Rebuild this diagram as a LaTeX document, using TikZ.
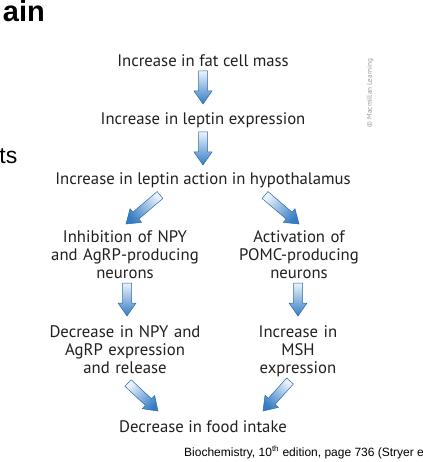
\documentclass[tikz,border=0pt]{standalone}
\usepackage{fontspec}
\setmainfont{PT Sans}
\newfontfamily\slidefont{Liberation Sans}
\usepackage{tikz}
\usetikzlibrary{calc}

\definecolor{arrowblue}{RGB}{52,124,196}
\definecolor{arrowlight}{RGB}{236,243,251}
\definecolor{textgray}{RGB}{35,31,32}

% block arrow from #2 to #3, #1 = shading angle
\newcommand{\fatarrow}[3][0]{%
  \coordinate (fa-t) at (#2);
  \coordinate (fa-h) at (#3);
  \coordinate (fa-c) at ($(fa-h)!13pt!(fa-t)$);
  \path[arrowbody, shading angle=#1]
    ($(fa-t)!4.5pt!90:(fa-h)$) -- ($(fa-c)!4.5pt!-90:(fa-t)$)
    -- ($(fa-c)!9pt!-90:(fa-t)$) -- (fa-h)
    -- ($(fa-c)!9pt!90:(fa-t)$) -- ($(fa-c)!4.5pt!90:(fa-t)$)
    -- ($(fa-t)!4.5pt!-90:(fa-h)$) -- cycle;
}

\begin{document}
\begin{tikzpicture}[
    x=1pt, y=-1pt,
    stage/.style={font=\fontsize{16.7}{18}\selectfont, text=textgray,
      inner sep=0pt, anchor=base, align=center},
    arrowbody/.style={draw=arrowblue!85!black, line width=0.5pt,
      top color=arrowlight, middle color=arrowblue!45!arrowlight,
      bottom color=arrowblue}
    ]
    \useasboundingbox[fill=white] (0,0) rectangle (422,462);

    % slide leftovers
    \node[anchor=base east, inner sep=0pt, font=\slidefont\bfseries\fontsize{29}{30}\selectfont] (title) at (45,22) {ain};
    \node[anchor=base east, inner sep=0pt, font=\slidefont\fontsize{23}{24}\selectfont] (bullet) at (17.5,164) {ts};
    \node[anchor=base west, inner sep=0pt, font=\slidefont\fontsize{12}{13}\selectfont] (source) at (184,456)
        {Biochemistry, 10\textsuperscript{th} edition, page 736 (Stryer e};
    \node[rotate=90, inner sep=0pt, font=\fontsize{7.2}{8}\selectfont, text=gray!80] (credit) at (370,93)
        {\textcopyright{} Macmillan Learning};

    % stages
    \node[stage] (n1) at (203,67) {Increase in fat cell mass};
    \node[stage] (n2) at (203,125) {Increase in leptin expression};
    \node[stage] (n3) at (203,185) {Increase in leptin action in hypothalamus};
    \node[stage, text width=170pt] (n4) at (125,242) {Inhibition of NPY\\ and AgRP-producing\\ neurons};
    \node[stage, text width=150pt] (n5) at (299,242) {Activation of\\ POMC-producing\\ neurons};
    \node[stage, text width=170pt] (n6) at (125,337) {Decrease in NPY and\\ AgRP expression\\ and release};
    \node[stage, text width=150pt] (n7) at (298,337) {Increase in\\ MSH\\ expression};
    \node[stage] (n8) at (203,432) {Decrease in food intake};

    % arrows
    \fatarrow{[yshift=-4pt]n1.base}{[yshift=21pt]n2.base}
    \fatarrow{[yshift=-7pt]n2.base}{[yshift=20pt]n3.base}
    \fatarrow[-50]{[xshift=-43pt,yshift=-10pt]n3.base}{[xshift=1pt,yshift=18pt]n4.base}
    \fatarrow[50]{[xshift=62pt,yshift=-10pt]n3.base}{[yshift=18pt]n5.base}
    \fatarrow{[xshift=2pt,yshift=-41pt]n4.base}{[xshift=2pt,yshift=21pt]n6.base}
    \fatarrow{[xshift=-1pt,yshift=-41pt]n5.base}{[yshift=21pt]n7.base}
    \fatarrow[47]{[xshift=3pt,yshift=-46pt]n6.base}{[xshift=-45pt,yshift=21pt]n8.base}
    \fatarrow[-42]{[xshift=-8pt,yshift=-44pt]n7.base}{[xshift=60pt,yshift=21pt]n8.base}
\end{tikzpicture}
\end{document}
